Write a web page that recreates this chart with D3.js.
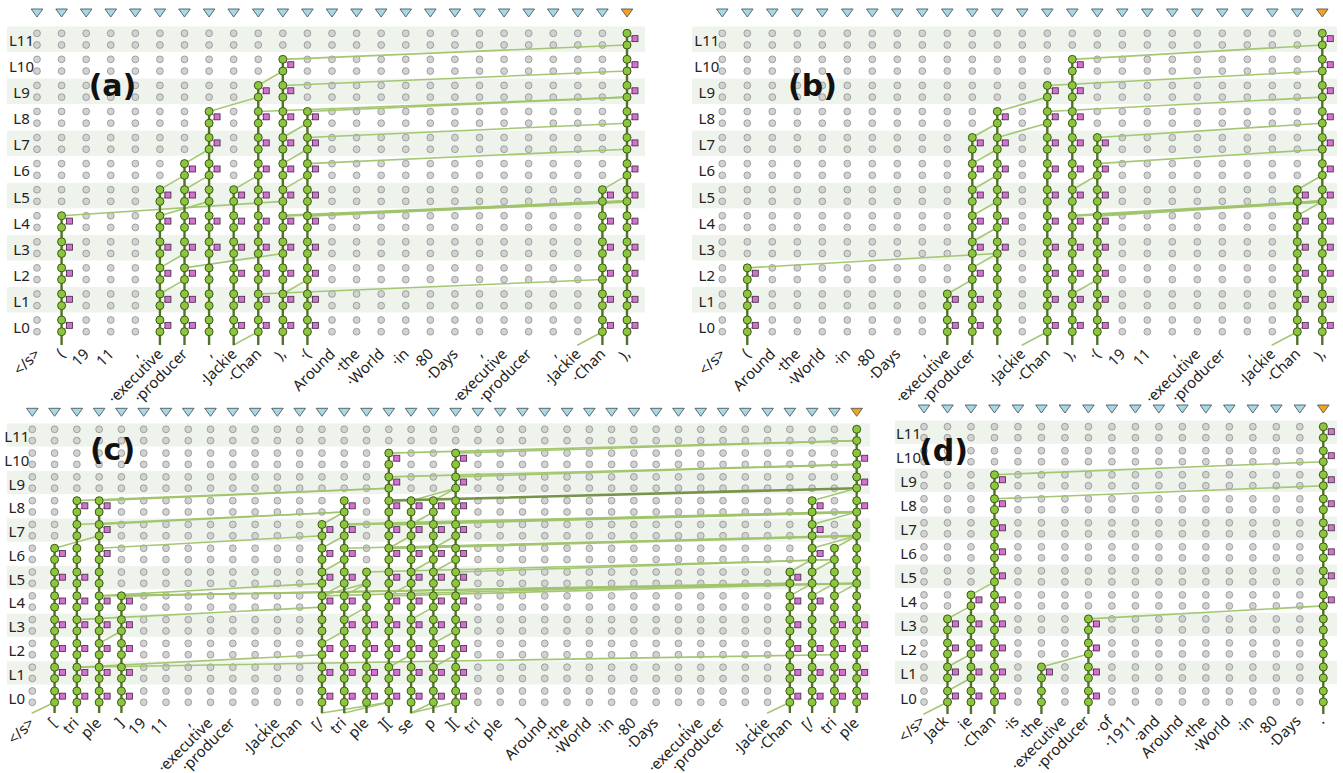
<!DOCTYPE html>
<html lang="en">
<head>
<meta charset="utf-8">
<title>Information flow routes</title>
<script src="https://cdn.jsdelivr.net/npm/d3@7"></script>
<style type="text/css">
body { margin: 0; background: #ffffff; }
.band { fill: #eef3ec; }
.node { fill: #d2d2d2; stroke: #8f8f8f; stroke-width: 0.8; }
.active { fill: #8cc63e; stroke: #3d5816; stroke-width: 1; }
.edge { fill: none; stroke: #9fc46c; stroke-linecap: round; }
.resid { stroke: #52712a; stroke-width: 2.4; }
.ffn_link { stroke: #d66ad6; stroke-width: 1; fill: none; }
.ffn { fill: #d56fd0; stroke: #3b2b3b; stroke-width: 0.8; }
.layer_label { font-family: "Noto Sans", sans-serif; font-size: 15px; fill: #222; text-anchor: middle; }
.token { font-family: "Noto Sans", sans-serif; font-size: 15px; fill: #222; text-anchor: end; }
.tag { font-family: "DejaVu Sans", sans-serif; font-weight: bold; font-size: 30px; fill: #111; text-anchor: middle; }
</style>
</head>
<body>
<script type="text/javascript">
// tokens of each prompt
var tokensA = ["</s>","(","19","11",",","·executive","·producer",",","·Jackie","·Chan","),","·(","Around","·the","·World","·in","·80","·Days",",","·executive","·producer",",","·Jackie","·Chan","),"];
var tokensB = ["</s>","(","Around","·the","·World","·in","·80","·Days",",","·executive","·producer",",","·Jackie","·Chan","),","·(","19","11",",","·executive","·producer",",","·Jackie","·Chan","),"];
var tokensC = ["</s>","[","tri","ple","]","19","11",",","·executive","·producer",",","·Jackie","·Chan","[/","tri","ple","][","se","p","][","tri","ple","]","Around","·the","·World","·in","·80","·Days",",","·executive","·producer",",","·Jackie","·Chan","[/","tri","ple"];
var tokensD = ["</s>","Jack","ie","·Chan","·is","·the","·executive","·producer","·of","·1911","·and","Around","·the","·World","·in","·80","·Days","."];

var layerNames = ["L0","L1","L2","L3","L4","L5","L6","L7","L8","L9","L10","L11"];

// active residual columns: [token, top layer]
var chainsA = [[1,4],[5,5],[6,6],[7,8],[8,5],[9,9],[10,10],[11,8],[23,5],[24,11]];
var chainsB = [[1,2],[9,1],[10,7],[11,8],[13,9],[14,10],[15,7],[23,5],[24,11]];
var chainsC = [[1,6],[2,8],[3,8],[4,4],[13,7],[14,8],[15,5],[16,10],[17,8],[18,8],[19,10],[34,5],[35,8],[36,6],[37,11]];
var chainsD = [[1,3],[2,4],[3,9],[5,1],[7,3],[17,11]];

// layers of an active column where the FFN block is not on the route: [token, layer]
var noFfnA = [[7,5],[7,2],[7,1],[7,0]];
var noFfnB = [[11,2],[11,1],[11,0]];
var noFfnC = [[2,7],[2,6],[3,5],[13,3],[15,4],[15,5],[35,5],[35,3],[36,4],[36,5],[36,6],[37,11],[37,7],[37,6],[37,5],[37,4]];
var noFfnD = [[5,0],[17,3],[17,2],[17,1],[17,0]];

// attention edges: [source token, target token, layer, weight]
var edgesA = [
  [8,9,0,1],[22,23,0,1],
  [9,23,2,1],[10,11,2,1],[5,6,2,1],
  [5,6,3,1],[6,10,3,1],
  [1,10,5,1],[5,7,5,1],[10,24,5,2],[11,24,5,2],[11,23,5,1],
  [5,6,6,1],[6,7,6,1],[8,9,6,1],[10,11,6,1],[23,24,6,1],
  [6,7,7,1],[10,11,7,1],[11,24,7,1],
  [10,11,8,1],[11,24,8,1],
  [7,9,9,1],[9,24,9,1],[11,24,9,1],
  [9,10,10,1],[10,24,10,1],
  [10,24,11,1]
];
var edgesB = [
  [12,13,0,1],[22,23,0,1],
  [9,10,2,1],[14,15,2,1],
  [1,11,3,1],[10,11,3,1],
  [10,11,4,1],
  [10,11,5,1],[14,24,5,2],[15,24,5,2],[23,24,5,1],
  [10,11,6,1],[14,15,6,1],[23,24,6,1],
  [10,11,7,1],[15,24,7,1],
  [10,11,8,1],[11,13,8,1],[15,24,8,1],
  [11,13,9,1],[13,24,9,1],
  [13,24,10,1],
  [14,24,11,1]
];
var edgesC = [
  [0,1,0,1],[13,16,0,1],[14,16,0,1],[17,18,0,1],[17,19,0,1],[33,34,0,1],
  [2,13,2,1],[2,36,2,1],[16,17,2,1],[18,19,2,1],
  [3,4,3,1],[18,19,3,1],[13,14,3,1],
  [2,13,4,1],[17,18,4,1],[14,15,4,1],
  [3,13,5,1],[3,37,5,1],[4,37,5,1],[4,34,5,1],[13,14,5,1],[13,15,5,1],[14,15,5,1],
  [13,34,5,1],[16,37,5,1],[16,17,5,1],[34,35,5,1],[35,36,5,1],[36,37,5,1],
  [15,36,6,1],[19,36,6,1],[13,14,6,1],[17,18,6,1],[18,19,6,1],[34,35,6,1],[35,36,6,1],
  [1,3,7,1],[3,13,7,1],[13,14,7,1],[16,17,7,1],[18,19,7,1],[14,37,7,1],[16,37,7,2],[35,37,7,1],[36,37,7,1],
  [2,14,8,1],[3,14,8,1],[13,14,8,1],[17,18,8,1],[14,37,8,2],[16,37,8,2],[35,37,8,1],
  [2,16,9,1],[3,16,9,1],[17,19,9,1],[18,19,9,1],[16,37,9,3],[35,37,9,1],
  [16,37,10,1],[19,37,10,1],
  [16,37,11,1],[19,37,11,1]
];
var edgesD = [
  [0,1,0,1],
  [1,2,1,1],
  [1,2,2,1],[5,7,2,1],
  [1,2,4,1],[7,17,4,1],
  [2,3,5,1],
  [3,17,9,1],
  [3,17,10,1]
];

var svgWidth = 1343;
var svgHeight = 773;

var panels = [
  {tag: "(a)", tokens: tokensA, chains: chainsA, noFfn: noFfnA, edges: edgesA,
   x0: 37, x1: 627, yL0: 320, yL11: 33.3, gap: 11.7, emb: 345, tri: 13,
   bandX0: 7, bandX1: 645, labelDx: 4, labelY: 355, tagX: 112.5, tagY: 96},
  {tag: "(b)", tokens: tokensB, chains: chainsB, noFfn: noFfnB, edges: edgesB,
   x0: 722.3, x1: 1322.3, yL0: 320, yL11: 33.3, gap: 11.7, emb: 345, tri: 13,
   bandX0: 692, bandX1: 1337, labelDx: 4, labelY: 355, tagX: 812.5, tagY: 96},
  {tag: "(c)", tokens: tokensC, chains: chainsC, noFfn: noFfnC, edges: edgesC,
   x0: 32.3, x1: 856.7, yL0: 691, yL11: 429.3, gap: 11.3, emb: 713, tri: 412.3,
   bandX0: 7, bandX1: 870, labelDx: 3, labelY: 724, tagX: 112.5, tagY: 459.5},
  {tag: "(d)", tokens: tokensD, chains: chainsD, noFfn: noFfnD, edges: edgesD,
   x0: 924, x1: 1323.3, yL0: 691, yL11: 426.7, gap: 11, emb: 714, tri: 409,
   bandX0: 895, bandX1: 1337, labelDx: 2, labelY: 722, tagX: 943.5, tagY: 461}
];

var svg = d3.select("body")
  .append("svg")
  .attr("width", svgWidth)
  .attr("height", svgHeight);

panels.forEach(function(p) {
  drawPanel(p);
});

function drawPanel(p) {
  var g = svg.append("g");

  var x = d3.scalePoint()
    .domain(d3.range(p.tokens.length))
    .range([p.x0, p.x1]);

  var yUp = d3.scaleLinear()
    .domain([0, 11])
    .range([p.yL0, p.yL11]);

  var step = yUp(0) - yUp(1);

  // node index: -1 embedding, 2l mid of layer l (lower dot), 2l+1 output of layer l (upper dot)
  var nodeY = function(n) {
    if (n < 0) return p.emb;
    var l = Math.floor(n / 2);
    return n % 2 === 0 ? yUp(l) + p.gap : yUp(l);
  };

  var layers = d3.range(12);

  // shaded layer bands
  g.selectAll("rect.band")
    .data(layers.filter(function(l) { return l % 2 === 1; }))
    .enter()
    .append("rect")
    .attr("class", "band")
    .attr("x", p.bandX0)
    .attr("width", p.bandX1 - p.bandX0)
    .attr("y", function(l) { return yUp(l) + p.gap / 2 - (step - 0.6) / 2; })
    .attr("height", step - 0.6);

  g.selectAll("text.layer_label")
    .data(layers)
    .enter()
    .append("text")
    .attr("class", "layer_label")
    .attr("x", p.x0 - 15.5)
    .attr("y", function(l) { return yUp(l) + p.gap / 2 + 1; })
    .attr("dominant-baseline", "central")
    .text(function(l) { return layerNames[l]; });

  // grey dots for every node
  var allNodes = [];
  p.tokens.forEach(function(t, i) {
    d3.range(24).forEach(function(n) { allNodes.push([i, n]); });
  });
  g.selectAll("circle.node")
    .data(allNodes)
    .enter()
    .append("circle")
    .attr("class", "node")
    .attr("cx", function(d) { return x(d[0]); })
    .attr("cy", function(d) { return nodeY(d[1]); })
    .attr("r", 3.4);

  // attention edges
  g.selectAll("line.edge")
    .data(p.edges)
    .enter()
    .append("line")
    .attr("class", "edge")
    .attr("x1", function(d) { return x(d[0]); })
    .attr("y1", function(d) { return nodeY(d[2] === 0 ? -1 : 2 * (d[2] - 1) + 1); })
    .attr("x2", function(d) { return x(d[1]); })
    .attr("y2", function(d) { return nodeY(2 * d[2]); })
    .attr("stroke-width", function(d) { return d[3] === 1 ? 1.6 : 2.6; })
    .style("stroke", function(d) { return d[3] === 3 ? "#6f8f3f" : null; })
    .attr("opacity", 0.95);

  // residual stream of active tokens
  g.selectAll("line.resid")
    .data(p.chains)
    .enter()
    .append("line")
    .attr("class", "resid")
    .attr("x1", function(d) { return x(d[0]); })
    .attr("x2", function(d) { return x(d[0]); })
    .attr("y1", p.emb)
    .attr("y2", function(d) { return nodeY(2 * d[1] + 1); });

  // FFN blocks
  var ffns = [];
  p.chains.forEach(function(c) {
    d3.range(c[1] + 1).forEach(function(l) {
      var skip = p.noFfn.some(function(s) { return s[0] === c[0] && s[1] === l; });
      if (!skip) ffns.push([c[0], l]);
    });
  });

  var sqX = function(d) { return x(d[0]) + 7; };
  var sqY = function(d) { return yUp(d[1]) + p.gap / 2 - 0.5; };

  g.selectAll("path.ffn_link")
    .data(ffns)
    .enter()
    .append("path")
    .attr("class", "ffn_link")
    .attr("d", function(d) {
      return "M" + x(d[0]) + "," + (yUp(d[1]) + p.gap) +
        "L" + sqX(d) + "," + sqY(d) +
        "L" + x(d[0]) + "," + yUp(d[1]);
    });

  g.selectAll("rect.ffn")
    .data(ffns)
    .enter()
    .append("rect")
    .attr("class", "ffn")
    .attr("x", function(d) { return sqX(d) - 2; })
    .attr("y", function(d) { return sqY(d) - 3; })
    .attr("width", 6)
    .attr("height", 6);

  // green nodes on the routes
  var activeNodes = [];
  p.chains.forEach(function(c) {
    d3.range(2 * c[1] + 2).forEach(function(n) { activeNodes.push([c[0], n]); });
  });
  g.selectAll("circle.active")
    .data(activeNodes)
    .enter()
    .append("circle")
    .attr("class", "active")
    .attr("cx", function(d) { return x(d[0]); })
    .attr("cy", function(d) { return nodeY(d[1]); })
    .attr("r", 4);

  // token markers at the top
  g.selectAll("path.tri")
    .data(p.tokens)
    .enter()
    .append("path")
    .attr("class", "tri")
    .attr("d", "M-5.8,-4L5.8,-4L0,4Z")
    .attr("transform", function(d, i) { return "translate(" + x(i) + "," + p.tri + ")"; })
    .attr("fill", function(d, i) { return i === p.tokens.length - 1 ? "#f7a21e" : "#a7d8e6"; })
    .attr("stroke", "#4d5a60")
    .attr("stroke-width", 0.9);

  // token labels
  g.selectAll("text.token")
    .data(p.tokens)
    .enter()
    .append("text")
    .attr("class", "token")
    .attr("transform", function(d, i) {
      return "translate(" + (x(i) + p.labelDx) + "," + p.labelY + ") rotate(-45)";
    })
    .text(function(d) { return d; });

  g.append("text")
    .attr("class", "tag")
    .attr("x", p.tagX)
    .attr("y", p.tagY)
    .text(p.tag);
}
</script>
</body>
</html>
